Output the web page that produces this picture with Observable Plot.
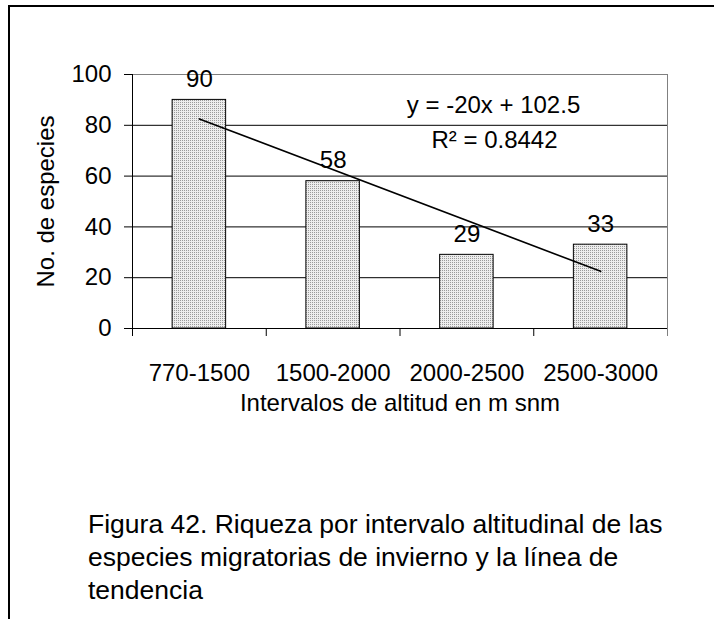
<!DOCTYPE html>
<html><head><meta charset="utf-8">
<script src="https://cdn.jsdelivr.net/npm/d3@7"></script>
<script src="https://cdn.jsdelivr.net/npm/@observablehq/plot@0.6"></script>
<style>
html,body{margin:0;padding:0;background:#fff;width:714px;height:619px;overflow:hidden;}
#wrap{position:relative;width:714px;height:619px;font-family:"Liberation Sans",Arial,sans-serif;}
#chart{position:absolute;left:0;top:0;}
#frame{position:absolute;left:8px;top:5px;width:800px;height:700px;border-left:2px solid #000;border-top:2px solid #000;pointer-events:none;}
#caption{position:absolute;left:88px;top:508px;font-size:26.5px;line-height:33px;color:#000;margin:0;white-space:nowrap;}
</style></head>
<body><div id="wrap"><div id="chart"></div><p id="caption"></p><div id="frame"></div></div>
<script>
// ---- data ----
const categories = ["770-1500", "1500-2000", "2000-2500", "2500-3000"];
const species = [90, 58, 29, 33];
const yTicks = [0, 20, 40, 60, 80, 100];
const gridValues = [20, 40, 60, 80];
const trendValues = [82.5, 22.5]; // trend line at first and last interval
const equationLines = ["y = -20x + 102.5", "R\u00b2 = 0.8442"];
const xTitle = "Intervalos de altitud en m snm";
const yTitle = "No. de especies";
const captionLines = [
  "Figura 42. Riqueza por intervalo altitudinal de las",
  "especies migratorias de invierno y la línea de",
  "tendencia"
];

// ---- layout ----
const W = 714, H = 430, mL = 132, mR = 47, mT = 74, mB = 102;
const step = (W - mL - mR) / categories.length;
const data = categories.map((c, i) => ({cat: c, value: species[i]}));
const trend = [
  {cat: categories[0], y: trendValues[0]},
  {cat: categories[categories.length - 1], y: trendValues[1]}
];

const chart = Plot.plot({
  width: W, height: H,
  marginLeft: mL, marginRight: mR, marginTop: mT, marginBottom: mB,
  style: {fontFamily: '"Liberation Sans", Arial, sans-serif', fontSize: "24px", color: "#000", background: "none", overflow: "visible"},
  x: {type: "band", domain: categories, paddingInner: 0.6, paddingOuter: 0.3, align: 0.5, round: false, axis: null},
  y: {domain: [0, 100], axis: null},
  marks: [
    Plot.ruleY(gridValues, {stroke: "#000", strokeWidth: 1}),
    Plot.ruleY([100], {stroke: "#808080", strokeWidth: 1}),
    Plot.ruleX([categories[categories.length - 1]], {y1: 0, y2: 100, dx: step / 2, stroke: "#808080", strokeWidth: 1}),
    Plot.barY(data, {x: "cat", y: "value", fill: "url(#dots)", stroke: "#000", strokeWidth: 1}),
    Plot.ruleY([0], {stroke: "#000", strokeWidth: 1}),
    Plot.ruleX([categories[0]], {y1: 0, y2: 100, dx: -step / 2, stroke: "#000", strokeWidth: 1}),
    Plot.axisX({tickSize: 8, tickFormat: () => "", label: null, dx: -step / 2, stroke: "#000"}),
    Plot.axisX({ticks: [categories[categories.length - 1]], tickSize: 8, tickFormat: () => "", label: null, dx: step / 2, stroke: "#808080"}),
    Plot.axisX({tickSize: 0, tickPadding: 35, label: null}),
    Plot.axisY({ticks: yTicks, tickSize: 8, tickPadding: 13, label: null, stroke: "#000"}),
    Plot.line(trend, {x: "cat", y: "y", stroke: "#000", strokeWidth: 1.6}),
    Plot.text(data, {x: "cat", y: "value", text: d => String(d.value), dy: -13, lineAnchor: "bottom", fill: "#000"}),
    Plot.text([equationLines[0]], {text: d => d, frameAnchor: "top-left", dx: 361, dy: 38, lineAnchor: "bottom", textAnchor: "middle", fill: "#000"}),
    Plot.text([equationLines[1]], {text: d => d, frameAnchor: "top-left", dx: 362, dy: 73, lineAnchor: "bottom", textAnchor: "middle", fill: "#000"}),
    Plot.text([yTitle], {text: d => d, frameAnchor: "left", textAnchor: "middle", rotate: -90, dx: -86, fill: "#000"}),
    Plot.text([xTitle], {text: d => d, frameAnchor: "bottom", lineAnchor: "top", textAnchor: "middle", dy: 65, fill: "#000"})
  ]
});

// stippled fill pattern for the bars
const ns = "http://www.w3.org/2000/svg";
const defs = document.createElementNS(ns, "defs");
defs.innerHTML = '<pattern id="dots" width="2" height="2" patternUnits="userSpaceOnUse">' +
  '<rect width="2" height="2" fill="#ededed"/><rect width="1" height="1" fill="#9a9a9a"/></pattern>';
chart.insertBefore(defs, chart.firstChild);
document.getElementById("chart").appendChild(chart);

const cap = document.getElementById("caption");
captionLines.forEach((line, i) => {
  if (i) cap.appendChild(document.createElement("br"));
  cap.appendChild(document.createTextNode(line));
});
</script>
</body></html>
